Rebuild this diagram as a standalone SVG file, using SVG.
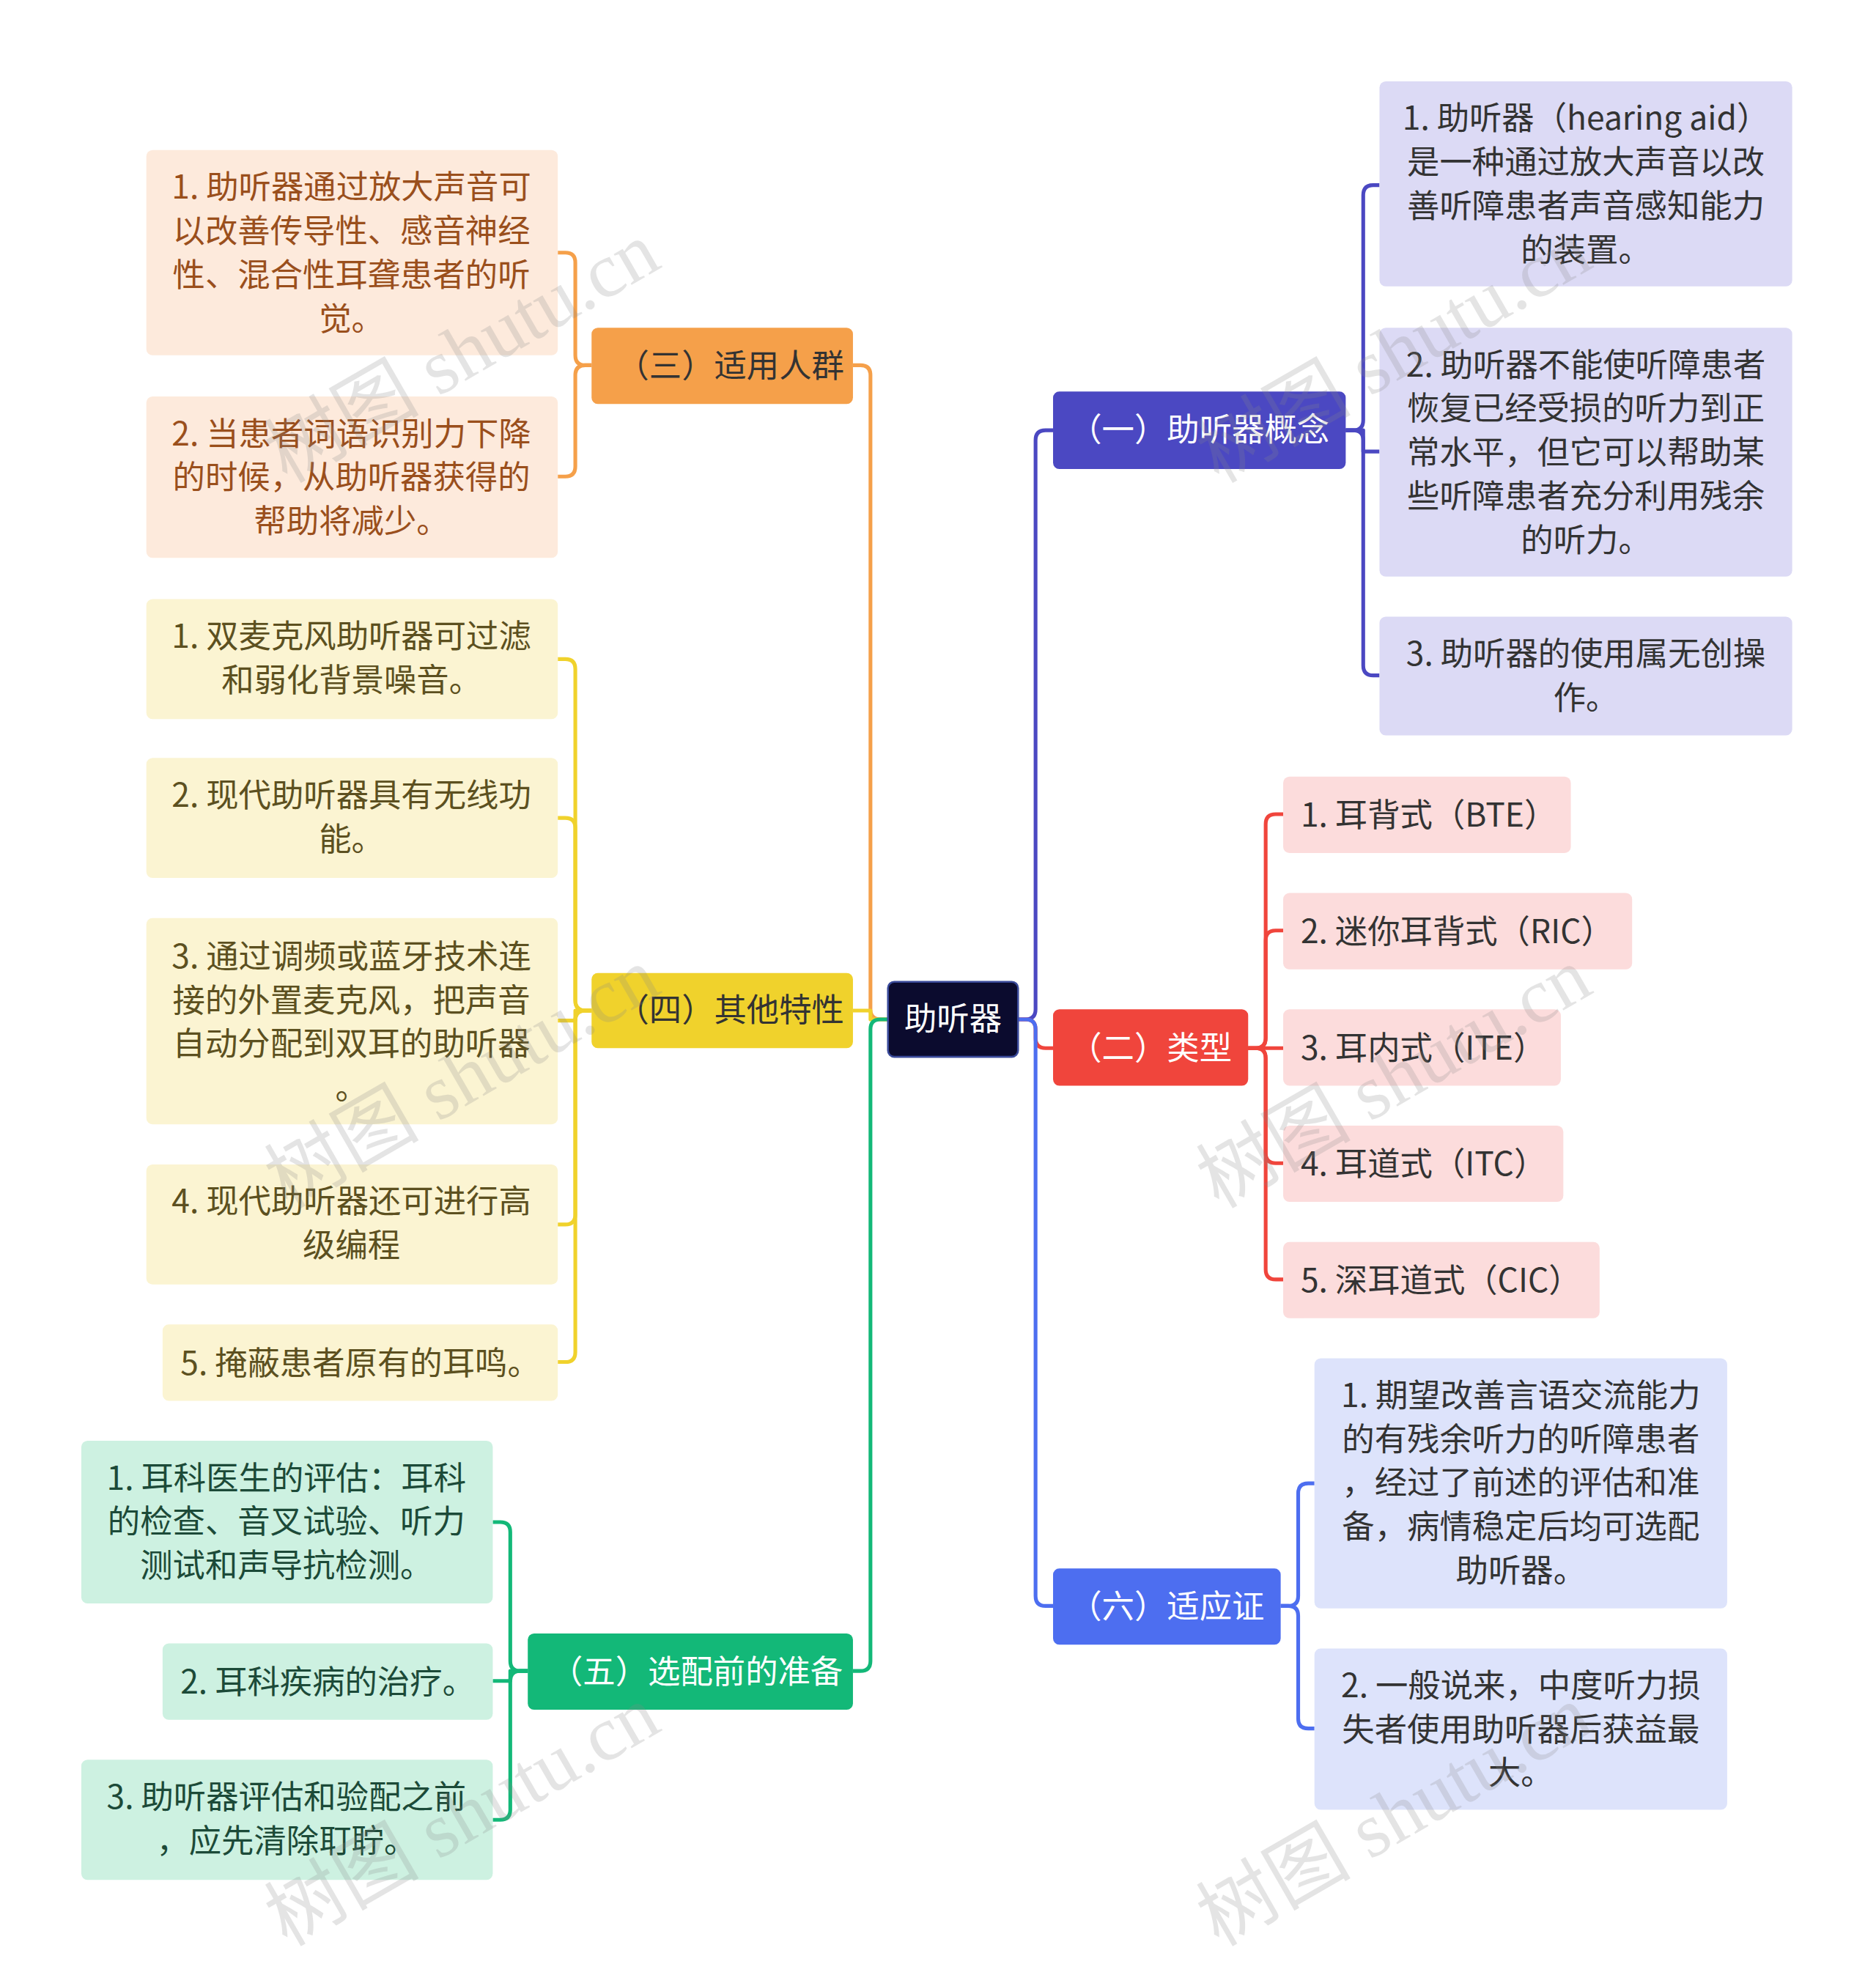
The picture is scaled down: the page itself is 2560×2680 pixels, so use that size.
<svg xmlns="http://www.w3.org/2000/svg" width="2560" height="2680" viewBox="0 0 2560 2680">
<style>
text{font-family:"Noto Sans CJK SC","Noto Sans",sans-serif;font-size:26px;text-anchor:middle}
.c{fill:none;stroke-width:3;stroke-linejoin:round}
.wm{font-family:"Liberation Serif","Noto Sans CJK SC",serif;font-size:62px;fill:#888;opacity:0.22;text-anchor:middle}
</style>
<rect width="2560" height="2680" fill="#fff"/>
<g transform="scale(1.70667)">
<g id="connectors">
<path class="c" stroke="#4b48c2" d="M814 815 H820 Q828 815 828 807 V352 Q828 344 836 344 H842"/>
<path class="c" stroke="#f0453c" d="M814 815 H820 Q828 815 828 823 V830 Q828 838 836 838 H842"/>
<path class="c" stroke="#4d6ef0" d="M814 815 H820 Q828 815 828 823 V1276 Q828 1284 836 1284 H842"/>
<path class="c" stroke="#f5a04a" d="M710 815 H704 Q696 815 696 807 V300 Q696 292 688 292 H682"/>
<path class="c" stroke="#f0d22c" d="M710 815 H696 V808 H682"/>
<path class="c" stroke="#13b878" d="M710 815 H704 Q696 815 696 823 V1328 Q696 1336 688 1336 H682"/>
<g stroke="#4b48c2">
<path class="c" d="M1076 344 H1082 Q1090 344 1090 336 V156 Q1090 148 1098 148 H1103"/>
<path class="c" d="M1076 344 H1090 V361 H1103"/>
<path class="c" d="M1076 344 H1082 Q1090 344 1090 352 V532 Q1090 540 1098 540 H1103"/>
</g>
<g stroke="#f0453c">
<path class="c" d="M998 838 H1004 Q1012 838 1012 830 V659 Q1012 651 1020 651 H1026"/>
<path class="c" d="M998 838 H1004 Q1012 838 1012 830 V752 Q1012 744 1020 744 H1026"/>
<path class="c" d="M998 838 H1026"/>
<path class="c" d="M998 838 H1004 Q1012 838 1012 846 V922 Q1012 930 1020 930 H1026"/>
<path class="c" d="M998 838 H1004 Q1012 838 1012 846 V1015 Q1012 1023 1020 1023 H1026"/>
</g>
<g stroke="#4d6ef0">
<path class="c" d="M1024 1284 H1030 Q1038 1284 1038 1276 V1194 Q1038 1186 1046 1186 H1051"/>
<path class="c" d="M1024 1284 H1030 Q1038 1284 1038 1292 V1374 Q1038 1382 1046 1382 H1051"/>
</g>
<g stroke="#f5a04a">
<path class="c" d="M473 292 H468 Q460 292 460 284 V210 Q460 202 452 202 H446"/>
<path class="c" d="M473 292 H468 Q460 292 460 300 V373 Q460 381 452 381 H446"/>
</g>
<g stroke="#f0d22c">
<path class="c" d="M473 808 H468 Q460 808 460 800 V535 Q460 527 452 527 H446"/>
<path class="c" d="M473 808 H468 Q460 808 460 800 V662 Q460 654 452 654 H446"/>
<path class="c" d="M473 808 H460 V816 H446"/>
<path class="c" d="M473 808 H468 Q460 808 460 816 V971 Q460 979 452 979 H446"/>
<path class="c" d="M473 808 H468 Q460 808 460 816 V1081 Q460 1089 452 1089 H446"/>
</g>
<g stroke="#13b878">
<path class="c" d="M422 1336 H416 Q408 1336 408 1328 V1225 Q408 1217 400 1217 H394"/>
<path class="c" d="M422 1336 H408 V1344 H394"/>
<path class="c" d="M422 1336 H416 Q408 1336 408 1344 V1447 Q408 1455 400 1455 H394"/>
</g>
</g>

<g id="root"><rect x="710" y="785" width="104" height="60" rx="5" fill="#0b0b2e" stroke="#3a4a9a" stroke-width="1.5"/><text x="762" y="824" fill="#fff">助听器</text></g>

<g id="b1"><rect x="842" y="313" width="234" height="62" rx="5" fill="#4b48c2"/><text x="959" y="353" fill="#fff">（一）助听器概念</text></g>
<g id="b1c1"><rect x="1103" y="65" width="330" height="164" rx="5" fill="#dcdaf5"/><text fill="#333" x="1268"><tspan x="1268" y="104">1. 助听器（hearing aid）</tspan><tspan x="1268" y="139">是一种通过放大声音以改</tspan><tspan x="1268" y="174">善听障患者声音感知能力</tspan><tspan x="1268" y="209">的装置。</tspan></text></g>
<g id="b1c2"><rect x="1103" y="262" width="330" height="199" rx="5" fill="#dcdaf5"/><text fill="#333"><tspan x="1268" y="301">2. 助听器不能使听障患者</tspan><tspan x="1268" y="336">恢复已经受损的听力到正</tspan><tspan x="1268" y="371">常水平，但它可以帮助某</tspan><tspan x="1268" y="406">些听障患者充分利用残余</tspan><tspan x="1268" y="441">的听力。</tspan></text></g>
<g id="b1c3"><rect x="1103" y="493" width="330" height="95" rx="5" fill="#dcdaf5"/><text fill="#333"><tspan x="1268" y="532">3. 助听器的使用属无创操</tspan><tspan x="1268" y="567">作。</tspan></text></g>

<g id="b2"><rect x="842" y="807" width="156" height="61" rx="5" fill="#f0453c"/><text x="920" y="847" fill="#fff">（二）类型</text></g>
<g id="b2c1"><rect x="1026" y="621" width="230" height="61" rx="5" fill="#fcdcdc"/><text x="1131" y="661" fill="#333" text-anchor="start" style="text-anchor:start" dx="-91">1. 耳背式（BTE）</text></g>
<g id="b2c2"><rect x="1026" y="714" width="279" height="61" rx="5" fill="#fcdcdc"/><text x="1040" y="754" fill="#333" style="text-anchor:start">2. 迷你耳背式（RIC）</text></g>
<g id="b2c3"><rect x="1026" y="807" width="222" height="61" rx="5" fill="#fcdcdc"/><text x="1040" y="847" fill="#333" style="text-anchor:start">3. 耳内式（ITE）</text></g>
<g id="b2c4"><rect x="1026" y="900" width="224" height="61" rx="5" fill="#fcdcdc"/><text x="1040" y="940" fill="#333" style="text-anchor:start">4. 耳道式（ITC）</text></g>
<g id="b2c5"><rect x="1026" y="993" width="253" height="61" rx="5" fill="#fcdcdc"/><text x="1040" y="1033" fill="#333" style="text-anchor:start">5. 深耳道式（CIC）</text></g>

<g id="b6"><rect x="842" y="1254" width="182" height="61" rx="5" fill="#4d6ef0"/><text x="933" y="1294" fill="#fff">（六）适应证</text></g>
<g id="b6c1"><rect x="1051" y="1086" width="330" height="200" rx="5" fill="#dde3fb"/><text fill="#333"><tspan x="1216" y="1125">1. 期望改善言语交流能力</tspan><tspan x="1216" y="1160">的有残余听力的听障患者</tspan><tspan x="1216" y="1195">，经过了前述的评估和准</tspan><tspan x="1216" y="1230">备，病情稳定后均可选配</tspan><tspan x="1216" y="1265">助听器。</tspan></text></g>
<g id="b6c2"><rect x="1051" y="1318" width="330" height="129" rx="5" fill="#dde3fb"/><text fill="#333"><tspan x="1216" y="1357">2. 一般说来，中度听力损</tspan><tspan x="1216" y="1392">失者使用助听器后获益最</tspan><tspan x="1216" y="1427">大。</tspan></text></g>

<g id="b3"><rect x="473" y="262" width="209" height="61" rx="5" fill="#f5a04a"/><text x="584" y="302" fill="#333">（三）适用人群</text></g>
<g id="b3c1"><rect x="117" y="120" width="329" height="164" rx="5" fill="#fdeadc"/><text fill="#9a4f1c"><tspan x="281" y="159">1. 助听器通过放大声音可</tspan><tspan x="281" y="194">以改善传导性、感音神经</tspan><tspan x="281" y="229">性、混合性耳聋患者的听</tspan><tspan x="281" y="264">觉。</tspan></text></g>
<g id="b3c2"><rect x="117" y="317" width="329" height="129" rx="5" fill="#fdeadc"/><text fill="#9a4f1c"><tspan x="281" y="356">2. 当患者词语识别力下降</tspan><tspan x="281" y="391">的时候，从助听器获得的</tspan><tspan x="281" y="426">帮助将减少。</tspan></text></g>

<g id="b4"><rect x="473" y="778" width="209" height="60" rx="5" fill="#f0d22c"/><text x="584" y="817" fill="#333">（四）其他特性</text></g>
<g id="b4c1"><rect x="117" y="479" width="329" height="96" rx="5" fill="#fbf4d2"/><text fill="#5c5020"><tspan x="281" y="518">1. 双麦克风助听器可过滤</tspan><tspan x="281" y="553">和弱化背景噪音。</tspan></text></g>
<g id="b4c2"><rect x="117" y="606" width="329" height="96" rx="5" fill="#fbf4d2"/><text fill="#5c5020"><tspan x="281" y="645">2. 现代助听器具有无线功</tspan><tspan x="281" y="680">能。</tspan></text></g>
<g id="b4c3"><rect x="117" y="734" width="329" height="165" rx="5" fill="#fbf4d2"/><text fill="#5c5020"><tspan x="281" y="774">3. 通过调频或蓝牙技术连</tspan><tspan x="281" y="809">接的外置麦克风，把声音</tspan><tspan x="281" y="844">自动分配到双耳的助听器</tspan><tspan x="281" y="879">。</tspan></text></g>
<g id="b4c4"><rect x="117" y="931" width="329" height="96" rx="5" fill="#fbf4d2"/><text fill="#5c5020"><tspan x="281" y="970">4. 现代助听器还可进行高</tspan><tspan x="281" y="1005">级编程</tspan></text></g>
<g id="b4c5"><rect x="130" y="1059" width="316" height="61" rx="5" fill="#fbf4d2"/><text x="288" y="1099" fill="#5c5020">5. 掩蔽患者原有的耳鸣。</text></g>

<g id="b5"><rect x="422" y="1306" width="260" height="61" rx="5" fill="#13b878"/><text x="557" y="1346" fill="#fff">（五）选配前的准备</text></g>
<g id="b5c1"><rect x="65" y="1152" width="329" height="130" rx="5" fill="#cdf1e1"/><text fill="#1c4a38"><tspan x="229" y="1191">1. 耳科医生的评估：耳科</tspan><tspan x="229" y="1226">的检查、音叉试验、听力</tspan><tspan x="229" y="1261">测试和声导抗检测。</tspan></text></g>
<g id="b5c2"><rect x="130" y="1314" width="264" height="61" rx="5" fill="#cdf1e1"/><text x="262" y="1354" fill="#1c4a38">2. 耳科疾病的治疗。</text></g>
<g id="b5c3"><rect x="65" y="1407" width="329" height="96" rx="5" fill="#cdf1e1"/><text fill="#1c4a38"><tspan x="229" y="1446">3. 助听器评估和验配之前</tspan><tspan x="229" y="1481">，应先清除耵聍。</tspan></text></g>

<g id="watermarks">
<text class="wm" transform="translate(380,300) rotate(-30)">树图 shutu.cn</text>
<text class="wm" transform="translate(380,880) rotate(-30)">树图 shutu.cn</text>
<text class="wm" transform="translate(380,1470) rotate(-30)">树图 shutu.cn</text>
<text class="wm" transform="translate(1125,300) rotate(-30)">树图 shutu.cn</text>
<text class="wm" transform="translate(1125,880) rotate(-30)">树图 shutu.cn</text>
<text class="wm" transform="translate(1125,1470) rotate(-30)">树图 shutu.cn</text>
</g>
</g>
</svg>
